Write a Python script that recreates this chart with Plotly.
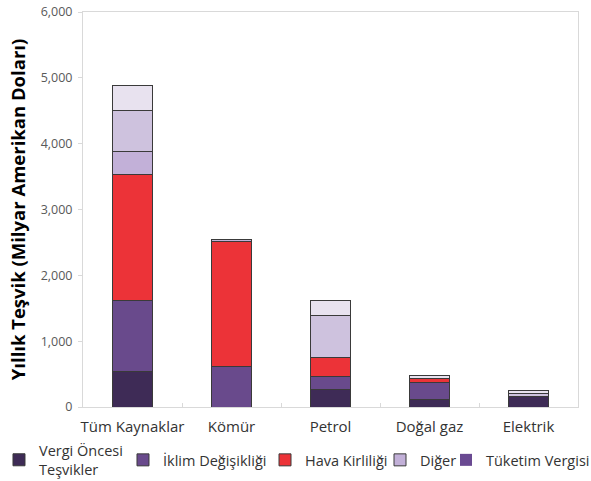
import plotly.graph_objects as go

categories = ["Tüm Kaynaklar", "Kömür", "Petrol", "Doğal gaz", "Elektrik"]

vergi_oncesi = [545, 0, 268, 115, 165]
iklim = [1080, 612, 193, 260, 0]
hava = [1900, 1900, 294, 65, 0]
diger_1 = [355, 30, 0, 0, 0]
diger_2 = [620, 0, 632, 0, 42]
diger_3 = [380, 0, 228, 35, 40]

legend_names = ["Vergi Öncesi<br>Teşvikler", "İklim Değişikliği", "Hava Kirliliği", "Diğer", "Tüketim Vergisi"]

outline = dict(color="#3a3a3a", width=1)

fig = go.Figure()
fig.add_trace(go.Bar(x=categories, y=vergi_oncesi, name=legend_names[0], legend="legend",
                     marker=dict(color="#3e2b56", line=outline)))
fig.add_trace(go.Bar(x=categories, y=iklim, name=legend_names[1], legend="legend2",
                     marker=dict(color="#694a8c", line=outline)))
fig.add_trace(go.Bar(x=categories, y=hava, name=legend_names[2], legend="legend3",
                     marker=dict(color="#ec3338", line=outline)))
fig.add_trace(go.Bar(x=categories, y=diger_1, name=legend_names[3], legend="legend4",
                     legendgroup="d", marker=dict(color="#c2b0d8", line=outline)))
fig.add_trace(go.Bar(x=categories, y=diger_2, name=legend_names[3], legend="legend4",
                     legendgroup="d", showlegend=False,
                     marker=dict(color="#cec2de", line=outline)))
fig.add_trace(go.Bar(x=categories, y=diger_3, name=legend_names[3], legend="legend4",
                     legendgroup="d", showlegend=False,
                     marker=dict(color="#e8e2ef", line=outline)))
fig.add_trace(go.Bar(x=categories, y=[None] * len(categories), name=legend_names[4],
                     legend="legend5", marker=dict(color="#6a4a92", line=dict(width=0))))

leg_font = dict(size=14.5, color="#333333", family="Open Sans")
leg_y = -0.134
leg_xs = [-0.1697, 0.0808, 0.3677, 0.6, 0.7333]


def leg(x):
    return dict(x=x, xanchor="left", y=leg_y, yanchor="middle", font=leg_font,
                bgcolor="rgba(0,0,0,0)", itemwidth=30, valign="middle")


fig.update_layout(
    barmode="stack",
    bargap=0.6,
    width=591, height=481,
    margin=dict(l=83, r=13, t=12, b=74, autoexpand=False),
    paper_bgcolor="white", plot_bgcolor="white",
    font=dict(family="Open Sans", color="#333333"),
    showlegend=True,
    legend=leg(leg_xs[0]),
    legend2=leg(leg_xs[1]),
    legend3=leg(leg_xs[2]),
    legend4=leg(leg_xs[3]),
    legend5=leg(leg_xs[4]),
)
fig.update_xaxes(
    showline=True, linecolor="#d9d9d9", linewidth=1, mirror=True,
    ticks="inside", tickson="boundaries", ticklen=4, tickcolor="#d9d9d9",
    tickangle=0, automargin=False, ticklabelstandoff=6,
    tickfont=dict(size=15, color="#333333"), showgrid=False,
)
fig.update_yaxes(
    range=[0, 6000], dtick=1000, tickformat=",",
    showline=True, linecolor="#d9d9d9", linewidth=1, mirror=True,
    ticks="outside", ticklen=4, tickcolor="#d9d9d9", automargin=False,
    ticklabelstandoff=3,
    tickfont=dict(size=12.5, color="#595959"), showgrid=False, zeroline=False,
    title=dict(text="<b>Yıllık Teşvik (Milyar Amerikan Doları)</b>",
               font=dict(size=18.5, color="#000000"), standoff=10),
)

fig.write_html("out.html", config={"displayModeBar": False},
               post_script="document.body.style.margin='0';")
